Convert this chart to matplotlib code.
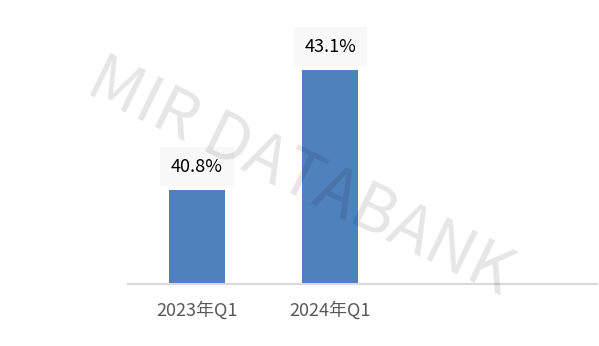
import matplotlib.pyplot as plt

plt.rcParams['font.family'] = ['Noto Sans CJK SC', 'DejaVu Sans']

categories = ['2023年Q1', '2024年Q1']
values = [40.8, 43.1]
labels = ['40.8%', '43.1%']

fig = plt.figure(figsize=(5.99, 3.46), dpi=100)
ax = fig.add_axes([0.2137, 0.179, 0.783, 0.754])

x = list(range(len(categories)))
bars = ax.bar(x, values, width=0.42, color='#4f81bd', bottom=0)
ax.set_ylim(39.0, 44.0)
ax.set_xlim(-0.517, 3.0)

for rect, lab in zip(bars, labels):
    ax.annotate(lab, (rect.get_x() + rect.get_width() / 2, rect.get_height()),
                xytext=(0, 17), textcoords='offset points', ha='center', va='center',
                fontsize=13, color='black',
                bbox=dict(boxstyle='square,pad=0.6', fc='#f8f8f8', ec='none'))

ax.set_xticks(x)
ax.set_xticklabels(categories, fontsize=13, color='#595959')
ax.tick_params(axis='x', length=0, pad=12)
ax.set_yticks([])
for s in ['top', 'right', 'left']:
    ax.spines[s].set_visible(False)
ax.spines['bottom'].set_color('#d9d9d9')
ax.spines['bottom'].set_linewidth(1.5)

# watermark
fig.text(0.5, 0.485, 'MIR DATABANK', fontsize=47, color='black', alpha=0.1,
         rotation=-26, ha='center', va='center', rotation_mode='anchor')

fig.savefig('out.png', dpi=100)
